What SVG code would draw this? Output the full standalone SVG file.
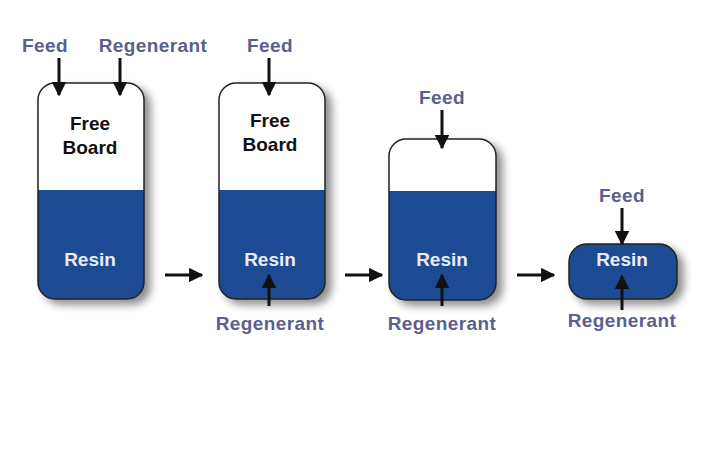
<svg xmlns="http://www.w3.org/2000/svg" width="720" height="450" viewBox="0 0 720 450">
<defs>
<filter id="sh" x="-20%" y="-20%" width="150%" height="150%">
<feGaussianBlur in="SourceAlpha" stdDeviation="4"/>
<feOffset dx="6" dy="5" result="b"/>
<feComponentTransfer><feFuncA type="linear" slope="0.45"/></feComponentTransfer>
<feMerge><feMergeNode/><feMergeNode in="SourceGraphic"/></feMerge>
</filter>
<marker id="ah" viewBox="0 0 10 10" refX="9" refY="5" markerWidth="4.8" markerHeight="4.8" orient="auto" markerUnits="strokeWidth">
<path d="M0,0 L10,5 L0,10 Z" fill="#111"/>
</marker>
<clipPath id="c1"><rect x="38" y="83" width="106" height="216" rx="17"/></clipPath>
<clipPath id="c2"><rect x="219" y="83" width="106" height="216" rx="17"/></clipPath>
<clipPath id="c3"><rect x="389" y="139" width="107" height="161" rx="17"/></clipPath>
</defs>
<style>
.lbl{font-family:"Liberation Sans",Arial,sans-serif;font-weight:bold;font-size:19px;letter-spacing:0.4px;fill:#5c5f8e;text-anchor:middle}
.fb{font-family:"Liberation Sans",Arial,sans-serif;font-weight:bold;font-size:19px;fill:#111;text-anchor:middle}
.rs{font-family:"Liberation Sans",Arial,sans-serif;font-weight:bold;font-size:19px;fill:#e8ebf3;text-anchor:middle}
.out{fill:none;stroke:#222;stroke-width:1.5}
.blue{fill:#1d4b93}
.arr{stroke:#111;stroke-width:3;fill:none;marker-end:url(#ah)}
</style>
<rect width="720" height="450" fill="#ffffff"/>
<g id="vessel1">
<g filter="url(#sh)">
<rect x="38" y="83" width="106" height="216" rx="17" fill="#fff"/>
<rect x="38" y="190" width="106" height="110" class="blue" clip-path="url(#c1)"/>
<rect x="38" y="83" width="106" height="216" rx="17" class="out"/>
</g>
<text class="fb" x="90" y="130">Free</text>
<text class="fb" x="90" y="154">Board</text>
<text class="rs" x="90" y="266">Resin</text>
<text class="lbl" x="45" y="52">Feed</text>
<text class="lbl" x="153" y="52">Regenerant</text>
</g>
<g id="vessel2">
<g filter="url(#sh)">
<rect x="219" y="83" width="106" height="216" rx="17" fill="#fff"/>
<rect x="219" y="190" width="106" height="110" class="blue" clip-path="url(#c2)"/>
<rect x="219" y="83" width="106" height="216" rx="17" class="out"/>
</g>
<text class="fb" x="270" y="127">Free</text>
<text class="fb" x="270" y="151">Board</text>
<text class="rs" x="270" y="266">Resin</text>
<text class="lbl" x="270" y="52">Feed</text>
<text class="lbl" x="270" y="330">Regenerant</text>
</g>
<g id="vessel3">
<g filter="url(#sh)">
<rect x="389" y="139" width="107" height="161" rx="17" fill="#fff"/>
<rect x="389" y="191" width="107" height="110" class="blue" clip-path="url(#c3)"/>
<rect x="389" y="139" width="107" height="161" rx="17" class="out"/>
</g>
<text class="rs" x="442" y="266">Resin</text>
<text class="lbl" x="442" y="104">Feed</text>
<text class="lbl" x="442" y="330">Regenerant</text>
</g>
<g id="vessel4">
<g filter="url(#sh)">
<rect x="569" y="244" width="108" height="55" rx="18" class="blue" stroke="#222" stroke-width="1.5"/>
</g>
<text class="rs" x="622" y="266">Resin</text>
<text class="lbl" x="622" y="202">Feed</text>
<text class="lbl" x="622" y="327">Regenerant</text>
</g>
<g id="connectors">
<line class="arr" x1="59" y1="58" x2="59" y2="95"/>
<line class="arr" x1="120" y1="58" x2="120" y2="95"/>
<line class="arr" x1="269" y1="58" x2="269" y2="95"/>
<line class="arr" x1="442" y1="110" x2="442" y2="148"/>
<line class="arr" x1="622" y1="208" x2="622" y2="244"/>
<line class="arr" x1="269" y1="306" x2="269" y2="275"/>
<line class="arr" x1="442" y1="306" x2="442" y2="275"/>
<line class="arr" x1="622" y1="310" x2="622" y2="276"/>
<line class="arr" x1="165" y1="275" x2="202" y2="275"/>
<line class="arr" x1="345" y1="275" x2="382" y2="275"/>
<line class="arr" x1="517" y1="275" x2="554" y2="275"/>
</g>
</svg>
